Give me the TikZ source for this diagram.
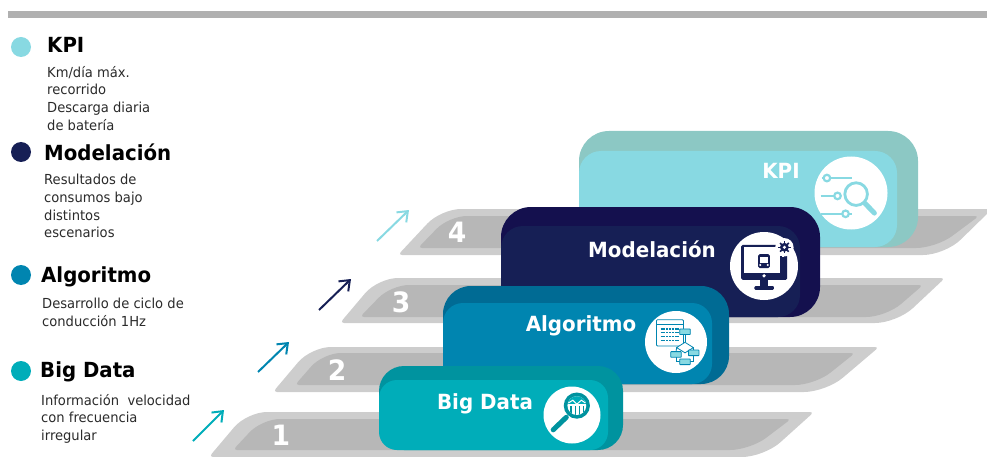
\documentclass[tikz,border=0pt]{standalone}
\usepackage{fontspec}
\setmainfont{DejaVu Sans}[FakeStretch=0.95]
\usetikzlibrary{arrows.meta}
\definecolor{kpilight}{HTML}{88D9E2}
\definecolor{kpiback}{HTML}{8CC8C4}
\definecolor{modfront}{HTML}{161F55}
\definecolor{modback}{HTML}{14104E}
\definecolor{algfront}{HTML}{0085B0}
\definecolor{algback}{HTML}{006B94}
\definecolor{bigfront}{HTML}{00ADB9}
\definecolor{bigback}{HTML}{00939F}
\definecolor{stepouter}{HTML}{CDCDCD}
\definecolor{stepinner}{HTML}{B7B7B7}
\definecolor{bodytext}{HTML}{2A2A2A}
\begin{document}
\begin{tikzpicture}
[x=1pt,y=-1pt,
  carddecorate/.style={shape=rectangle,inner sep=0pt,rounded corners=#1},
  dotdecorate/.style={shape=circle,inner sep=0pt,minimum size=20pt},
  icondecorate/.style={shape=circle,inner sep=0pt,fill=white},
  headdecorate/.style={anchor=west,inner sep=0pt,font=\fontsize{20.8}{24}\selectfont\bfseries},
  bodydecorate/.style={anchor=north west,inner sep=0pt,align=left,text=bodytext,
    font=\fontsize{13.8}{17.7}\selectfont},
  cardtext/.style={inner sep=0pt,text=white,font=\fontsize{20.9}{24}\selectfont\bfseries},
  steptext/.style={inner sep=0pt,text=white,font=\fontsize{28}{32}\selectfont\bfseries},
  arrowdecorate/.style={-{Straight Barb[length=9pt,width=14pt,line width=2pt]},line width=2pt}]
\useasboundingbox (0,0) rectangle (987,457);
%% top bar
\fill[black!31] (8,11) rectangle (987,18);
%% steps
\foreach \ax/\bx/\cx/\dx/\ay/\by/\ex/\fx/\gx/\hx/\ey/\fy in {
  441/992/945/398/209/255/449/979/936/418/216/248,
  378/945/897/340/278/323/391/923/886/360/285/317,
  311/879/826/273/347/392/323/855/815/295/353/385,
  247/814/764/209/412/457/262/791/750/233/419/450}
{
  \fill[stepouter] ([xshift=60pt]\dx,\by) [rounded corners=4pt] -- (\dx,\by) [rounded corners=20pt] -- (\ax,\ay)
    [rounded corners=4pt] -- (\bx,\ay) [rounded corners=22pt] -- (\cx,\by) [sharp corners] -- cycle;
  \fill[stepinner] ([xshift=60pt]\hx,\fy) [rounded corners=4pt] -- (\hx,\fy) [rounded corners=18pt] -- (\ex,\ey)
    [rounded corners=4pt] -- (\fx,\ey) [rounded corners=20pt] -- (\gx,\fy) [sharp corners] -- cycle;
}
%% step numbers
\foreach \nodename/\x/\y/\thelabel in {stepfour/457/232/4, stepthree/401/302/3,
  steptwo/337/370/2, stepone/281/435/1}
{
  \node (\nodename) at (\x,\y) [steptext] {\thelabel};
}
%% cards
\foreach \nodename/\x/\y/\w/\h/\colour/\radius in {
  kpibackcard/748.5/189/339/116/kpiback/30pt, kpifrontcard/738/199/318/96/kpilight/22pt,
  modbackcard/660.5/262/319/110/modback/30pt, modfrontcard/650.5/271.5/299/91/modfront/22pt,
  algbackcard/586/335/286/98/algback/28pt, algfrontcard/577.5/343.5/269/81/algfront/20pt,
  bigbackcard/501/408/244/84/bigback/25pt, bigfrontcard/493.5/415/229/70/bigfront/18pt}
{
  \node (\nodename) at (\x,\y) [carddecorate=\radius,fill=\colour,
    minimum width=\w pt,minimum height=\h pt] {};
}
%% card labels and icon discs
\node (kpicard) at (781,171) [cardtext] {KPI};
\node (modcard) at (652,249) [cardtext] {Modelación};
\node (algcard) at (581,326) [cardtext] {Algoritmo};
\node (bigcard) at (485,404) [cardtext] {Big Data};
\node (kpiicon) at (851,193) [icondecorate,minimum size=73pt] {};
\node (modicon) at (764,266) [icondecorate,minimum size=68pt] {};
\node (algicon) at (676,342) [icondecorate,minimum size=62pt] {};
\node (bigicon) at (572,415) [icondecorate,minimum size=57pt] {};
%% kpi icon
\begin{scope}[shift={(kpiicon.center)},x=36.5pt,y=-36.5pt,draw=kpilight,line width=2.2pt]
  \draw (-.8,-.41) -- (.03,-.41);
  \draw (-.83,.08) -- (-.27,.08);
  \draw (-.83,.57) -- (.03,.57);
  \foreach \x/\y in {-.66/-.41, -.37/.08, -.15/.57}
  {
    \draw[fill=white] (\x,\y) circle (.09);
  }
  \draw[line width=2.8pt] (.14,.03) circle (.31);
  \draw[line width=5pt,line cap=round] (.38,.28) -- (.64,.55);
\end{scope}
%% modelacion icon
\begin{scope}[shift={(modicon.center)},x=34pt,y=-34pt]
  \fill[modfront,rounded corners=1.5pt] (-.67,-.62) rectangle (.68,.41);
  \fill[white] (-.59,-.55) rectangle (.6,.2);
  \fill[white] (.6,-.55) circle (.27);
  \fill[modfront] (.6,-.55) circle (.13);
  \foreach \angle in {0,45,...,315}
  {
    \draw[modfront,line width=1.6pt] (.6,-.55) -- ++(\angle:.18);
  }
  \fill[white] (.6,-.55) circle (.05);
  \fill[modfront] (.46,-.3) rectangle (.6,.2);
  \fill[white] (.54,-.3) rectangle (.6,-.26);
  \fill[white] (0,.29) circle (.055);
  \fill[modfront] (-.13,.41) rectangle (.13,.59);
  \fill[modfront,rounded corners=1pt] (-.28,.59) rectangle (.29,.7);
  \fill[modfront,rounded corners=1.5pt] (-.17,-.35) rectangle (.17,.06);
  \fill[white] (-.12,-.27) rectangle (.12,-.09);
  \fill[white] (-.11,-.03) circle (.035);
  \fill[white] (.11,-.03) circle (.035);
\end{scope}
%% algoritmo icon
\begin{scope}[shift={(algicon.center)},x=31pt,y=-31pt,draw=algfront,line width=.8pt]
  \draw[rounded corners=1pt] (-.63,-.72) rectangle (.24,.13);
  \draw (-.63,-.56) -- (.24,-.56);
  \foreach \y in {-.42,-.3,-.18,-.06}
  {
    \draw[line width=1.1pt,dash pattern=on 2pt off .8pt] (-.5,\y) -- (.12,\y);
  }
  \draw[fill=white] (.29,.01) -- (.56,.18) -- (.29,.35) -- (.02,.18) -- cycle;
  \draw (.29,-.25) -- (.29,.01);
  \draw (.02,.18) -- (0,.32);
  \draw (.56,.18) -- (.57,.27);
  \draw (0,.48) |- (.12,.64);
  \draw (.57,.43) |- (.46,.64);
  \foreach \x/\y in {.29/-.33, 0/.4, .57/.35, .29/.64}
  {
    \draw[fill=kpilight,rounded corners=.5pt] (\x-.17,\y-.09) rectangle (\x+.17,\y+.09);
  }
\end{scope}
%% big data icon
\begin{scope}[shift={(bigicon.center)},x=28.5pt,y=-28.5pt]
  \draw[bigback,line width=5pt,line cap=round] (-.2,.08) -- (-.66,.52);
  \fill[bigback] (.17,-.33) circle (.46);
  \fill[white] (.17,-.33) circle (.33);
  \begin{scope}
    \clip (.17,-.33) circle (.33);
    \fill[bigfront] (-.2,-.75) rectangle (.55,-.38);
    \foreach \x in {-.03,.13,.27,.41}
    {
      \draw[bigback,line width=1.4pt] (\x,-.3) -- (\x,.05);
    }
  \end{scope}
  \draw[white,line width=1pt] (-.13,-.42) -- (.03,-.52) -- (.17,-.38) -- (.33,-.52) -- (.47,-.42);
\end{scope}
%% legend
\foreach \nodename/\x/\y/\dotx/\doty/\colour/\thelabel in {
  kpi/47/45/21/47/kpilight/KPI,
  mod/44/152/21/152/modfront/Modelación,
  alg/41/277/21/275/algfront/Algoritmo,
  big/40/372/21/371/bigfront/Big Data}
{
  \node (\nodename dot) at (\dotx,\doty) [dotdecorate,fill=\colour] {};
  \node (\nodename head) at (\x,\y) [headdecorate] {\thelabel};
}
\node (kpibody) at (47,66) [bodydecorate] {Km/día máx.\\recorrido\\Descarga diaria\\de batería};
\node (modbody) at (44,174) [bodydecorate] {Resultados de\\consumos bajo\\distintos\\escenarios};
\node (algbody) at (42,298) [bodydecorate] {Desarrollo de ciclo de\\conducción 1Hz};
\node (bigbody) at (41,394) [bodydecorate] {Información~~velocidad\\con frecuencia\\irregular};
%% arrows
\coordinate (arrowonestart) at (193,441);
\coordinate (arrowoneend) at (224,410);
\coordinate (arrowtwostart) at (258,372);
\coordinate (arrowtwoend) at (289,342);
\coordinate (arrowthreestart) at (319,310);
\coordinate (arrowthreeend) at (351,279);
\coordinate (arrowfourstart) at (377,241);
\coordinate (arrowfourend) at (409,210);
\foreach \startnode/\endnode/\colour in {arrowonestart/arrowoneend/bigfront,
  arrowtwostart/arrowtwoend/algfront, arrowthreestart/arrowthreeend/modfront,
  arrowfourstart/arrowfourend/kpilight}
{
  \draw[arrowdecorate,\colour] (\startnode) -- (\endnode);
}
\end{tikzpicture}
\end{document}
